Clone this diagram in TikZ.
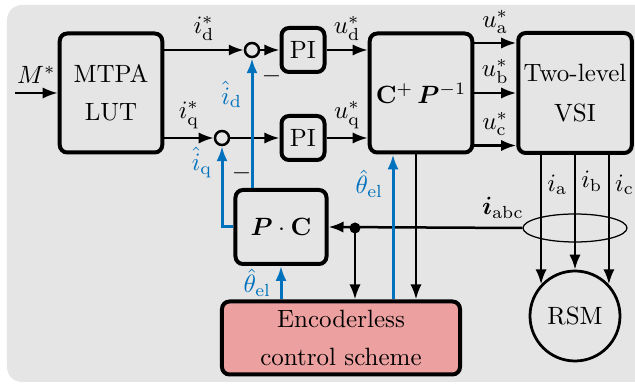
\documentclass[tikz,border=0pt]{standalone}
\usepackage{amsmath,amssymb}
\usepackage{bm}
\usetikzlibrary{arrows.meta}
\usetikzlibrary{shapes.geometric}
\usetikzlibrary{positioning}
\definecolor{estblue}{RGB}{0,114,189}
\definecolor{encred}{RGB}{236,160,160}
\definecolor{bggray}{RGB}{229,229,229}

\begin{document}
\begin{tikzpicture}[x=0.4pt,y=-0.4pt,>={Latex[length=6pt,width=4.5pt]},line width=1pt]
			\tikzstyle{block}=[draw,line width=1.6pt,rounded corners=3pt,inner sep=0pt,align=center]
			\tikzstyle{sum}=[draw,circle,line width=1pt,minimum size=5.6pt,inner sep=0pt]
			\tikzstyle{est}=[estblue,line width=1.2pt]
			
			\clip (0,0) rectangle (635,385);
			\fill[bggray,rounded corners=6pt] (7,5) rectangle (700,382);
			
			\coordinate (min) at (15,93);
			\node[block,minimum width=41pt,minimum height=47.6pt] (lut) at (111,93) {MTPA\\[3pt]LUT};
			\node[sum] (sumd) at (252,50) {};
			\node[sum] (sumq) at (222,138) {};
			\node[block,minimum width=17.2pt,minimum height=17.6pt] (pid) at (303,50) {PI};
			\node[block,minimum width=17.2pt,minimum height=17.6pt] (piq) at (303,138) {PI};
			\node[block,minimum width=41pt,minimum height=47.6pt] (cbox) at (421,93) {$\mathbf{C}^{+}\,\bm{P}^{-1}$};
			\node[block,minimum width=45.4pt,minimum height=48pt] (vsi) at (575,93) {Two-level\\[4pt]VSI};
			\node[block,minimum width=36.4pt,minimum height=29.6pt] (pc) at (281,227) {$\bm{P}\cdot\mathbf{C}$};
			\node[block,fill=encred,minimum width=95.2pt,minimum height=29.2pt] (enc) at (341,338) {Encoderless\\[3pt]control scheme};
			\node[draw,circle,line width=1.1pt,minimum size=36pt,inner sep=0pt] (rsm) at (575,316) {RSM};
			\node[draw,ellipse,line width=0.5pt,minimum width=41.6pt,minimum height=11.2pt,inner sep=0pt] (isens) at (575,228) {};
			\coordinate (tap) at (355,228);
			
			% references
			\draw[->] (min) -- (lut) node[midway,above] {$M^*$};
			\draw[->] (lut.east |- sumd) -- (sumd) node[midway,above] {$i_{\mathrm{d}}^*$};
			\draw[->] (lut.east |- sumq) -- (sumq) node[midway,above] {$i_{\mathrm{q}}^*$};
			\draw[->] (sumd) -- (pid);
			\draw[->] (sumq) -- (piq);
			\draw[->] (pid) -- (pid -| cbox.west) node[midway,above] {$u_{\mathrm{d}}^*$};
			\draw[->] (piq) -- (piq -| cbox.west) node[midway,above] {$u_{\mathrm{q}}^*$};
			\draw[->] ([yshift=20pt]cbox.east) -- ([yshift=20pt]cbox.east -| vsi.west) node[midway,above] {$u_{\mathrm{a}}^*$};
			\draw[->] (cbox.east) -- (cbox.east -| vsi.west) node[midway,above] {$u_{\mathrm{b}}^*$};
			\draw[->] ([yshift=-21pt]cbox.east) -- ([yshift=-21pt]cbox.east -| vsi.west) node[midway,above] {$u_{\mathrm{c}}^*$};
			
			% phase currents
			\draw[->] (rsm.137 |- vsi.south) -- (rsm.137) node[pos=0.23,right,inner sep=2pt] {$i_{\mathrm{a}}$};
			\draw[->] (rsm.north |- vsi.south) -- (rsm.north) node[pos=0.23,right,inner sep=2pt] {$i_{\mathrm{b}}$};
			\draw[->] (rsm.43 |- vsi.south) -- (rsm.43) node[pos=0.23,right,inner sep=2pt] {$i_{\mathrm{c}}$};
			\draw[->] (isens.west) -- (pc.east) node[pos=0.1,above] {$\bm{i}_{\mathrm{abc}}$};
			\fill (tap) circle (2.2pt);
			\draw[->] (tap) -- (tap |- enc.north);
			\draw[->] ([xshift=-2pt]cbox.south) -- ([xshift=-2pt]cbox.south |- enc.north);
			
			% estimates
			\draw[->,est] ([xshift=-11.2pt]cbox.south |- enc.north) -- ([xshift=-11.2pt]cbox.south) node[pos=0.8,left] {$\hat{\theta}_{\mathrm{el}}$};
			\draw[->,est] (pc.south |- enc.north) -- (pc.south) node[midway,left] {$\hat{\theta}_{\mathrm{el}}$};
			\draw[->,est] (sumd.south |- pc.north) -- (sumd.south) node[pos=0.72,left] {$\hat{i}_{\mathrm{d}}$} node[pos=0.86,right,black] {$-$};
			\draw[->,est] (pc.west) -| (sumq.south) node[pos=0.9,left] {$\hat{i}_{\mathrm{q}}$} node[pos=0.83,right,black] {$-$};
\end{tikzpicture}
\end{document}
